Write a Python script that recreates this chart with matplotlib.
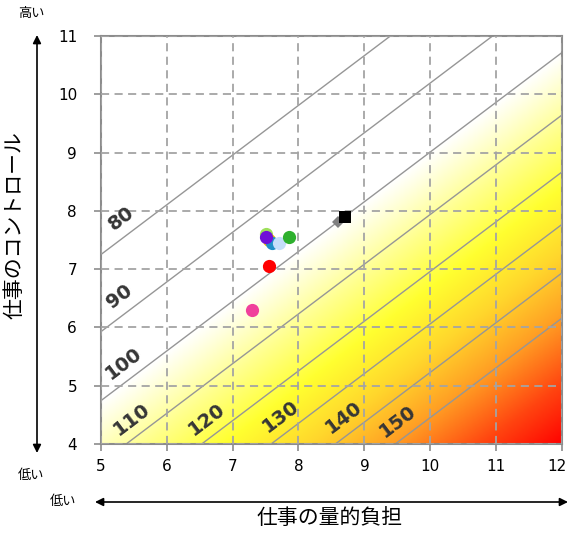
import numpy as np
import matplotlib
matplotlib.use("Agg")
import matplotlib.pyplot as plt
import matplotlib.transforms as mtransforms
from matplotlib.colors import LinearSegmentedColormap
from matplotlib.patches import FancyArrowPatch

# ---- data ----
# health-risk model (quantitative workload x job control)
coef_workload = 0.076
coef_control = 0.089
mean_workload = 8.7
mean_control = 7.9
risk_levels = [80, 90, 100, 110, 120, 130, 140, 150]
label_x = [5.31, 5.29, 5.34, 5.47, 6.61, 7.73, 8.68, 9.51]

point_x = [7.5, 7.55, 7.6, 7.7, 7.5, 7.85, 7.55, 7.3]
point_y = [7.6, 7.5, 7.45, 7.45, 7.55, 7.55, 7.05, 6.3]
point_colors = ["#9ee05a", "#e8b400", "#1f8fc8", "#c4defa", "#7010d8",
                "#2eb02e", "#ff0000", "#f0409c"]

ref_square = (8.7, 7.9)
ref_diamond = (8.6, 7.8)

x_ticks = [5, 6, 7, 8, 9, 10, 11, 12]
y_ticks = [4, 5, 6, 7, 8, 9, 10, 11]

xlabel = "仕事の量的負担"
ylabel = "仕事のコントロール"
high_txt = "高い"
low_txt = "低い"


def risk(x, y):
    return 100 * np.exp(coef_workload * (x - mean_workload)
                        - coef_control * (y - mean_control))


def level_line(level, x):
    return mean_control + (coef_workload * (x - mean_workload)
                           - np.log(level / 100)) / coef_control


cjk = ["Noto Sans CJK JP", "DejaVu Sans"]

fig = plt.figure(figsize=(5.69, 5.33), dpi=100)
ax = fig.add_axes([0.177, 0.167, 0.811, 0.7655])

xmin, xmax = x_ticks[0], x_ticks[-1]
ymin, ymax = y_ticks[0], y_ticks[-1]

# gradient background
gx = np.linspace(xmin, xmax, 600)
gy = np.linspace(ymin, ymax, 600)
GX, GY = np.meshgrid(gx, gy)
R = risk(GX, GY)
rmin, rmax = 100, 182


def f(v):
    return (v - rmin) / (rmax - rmin)


stops = [(0.0, "#ffffff"), (f(112), "#ffff8c"), (f(123), "#ffff30"),
         (f(136), "#ffd62c"), (f(149), "#ffa024"), (f(166), "#ff4410"),
         (1.0, "#ff0000")]
cmap = LinearSegmentedColormap.from_list("risk", stops)
ax.imshow(R, extent=[xmin, xmax, ymin, ymax], origin="lower", cmap=cmap,
          vmin=rmin, vmax=rmax, aspect="auto", zorder=0, interpolation="bilinear")

ax.set_xlim(xmin, xmax)
ax.set_ylim(ymin, ymax)

# grid
ax.set_xticks(x_ticks)
ax.set_yticks(y_ticks)
ax.grid(True, color="#a4a4a4", linewidth=1.3, linestyle=(0, (4.5, 3)), zorder=1)
ax.set_axisbelow(False)

# iso-risk lines
ax.contour(GX, GY, R, levels=risk_levels, colors="#969696", linewidths=1.0,
           zorder=2)

# line labels
fig.canvas.draw()
for lev, lx in zip(risk_levels, label_x):
    p1 = ax.transData.transform((lx, level_line(lev, lx)))
    p2 = ax.transData.transform((lx + 1, level_line(lev, lx + 1)))
    ang = np.degrees(np.arctan2(p2[1] - p1[1], p2[0] - p1[0]))
    ax.text(lx, level_line(lev, lx) + 0.35, str(lev), rotation=ang,
            rotation_mode="anchor", ha="center", va="center",
            fontsize=14, fontweight="bold", color="#363636", zorder=3)

# points
for px_, py_, c in zip(point_x, point_y, point_colors):
    ax.plot(px_, py_, "o", color=c, markersize=9.5, markeredgewidth=0, zorder=4)
ax.plot(*ref_diamond, "D", color="#808080", markersize=6.5, markeredgewidth=0, zorder=4)
ax.plot(*ref_square, "s", color="black", markersize=8.5, markeredgewidth=0, zorder=5)

# spines and ticks
for s in ax.spines.values():
    s.set_color("#8c8c8c")
    s.set_linewidth(1.5)
ax.tick_params(direction="out", length=5, width=1.2, color="#8c8c8c",
               labelsize=11, pad=6)
ax.tick_params(axis="y", pad=12)
last = ax.get_xticklabels()[-1]
last.set_transform(last.get_transform() +
                   mtransforms.ScaledTranslation(-5 / 100, 0, fig.dpi_scale_trans))

# arrows
arrow_kw = dict(arrowstyle="<|-|>", color="black", lw=1.2,
                mutation_scale=12, shrinkA=0, shrinkB=0)
fig.add_artist(FancyArrowPatch(
    (37 / 569, 1 - 453 / 533), (37 / 569, 1 - 35 / 533),
    transform=fig.transFigure, **arrow_kw))
fig.add_artist(FancyArrowPatch(
    (95 / 569, 1 - 502 / 533), (568 / 569, 1 - 502 / 533),
    transform=fig.transFigure, **arrow_kw))

fig.text(31 / 569, 1 - 14 / 533, high_txt, family=cjk, fontsize=9.5,
         ha="center", va="center")
fig.text(31 / 569, 1 - 475 / 533, low_txt, family=cjk, fontsize=9.5,
         ha="center", va="center")
fig.text(63 / 569, 1 - 502 / 533, low_txt, family=cjk, fontsize=9.5,
         ha="center", va="center")
fig.text(15 / 569, 1 - 225 / 533, ylabel, family=cjk, fontsize=15,
         rotation=90, ha="center", va="center")
fig.text(330 / 569, 1 - 518 / 533, xlabel, family=cjk, fontsize=15,
         ha="center", va="center")

fig.savefig("out.png", dpi=100)
